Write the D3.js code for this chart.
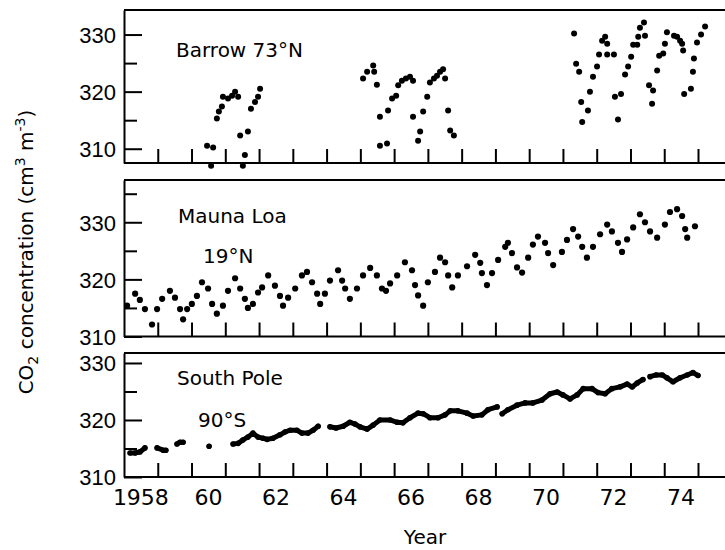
<!DOCTYPE html>
<meta charset="utf-8">
<style>
  body { margin: 0; background: #fff; }
  svg { font-family: "DejaVu Sans", sans-serif; }
  .axis path.domain { stroke: #000; stroke-width: 2; }
  .axis line { stroke: #000; stroke-width: 2; }
  .axis text { font-size: 22px; fill: #000; }
</style>
<body>
<script src="https://cdn.jsdelivr.net/npm/d3@7"></script>
<script>

// CO2 readings taken off the figure (decimal year, cm3 m-3)
var barrowYear = [1960.46, 1960.64, 1960.58, 1960.75, 1960.81, 1960.90, 1960.93, 1961.08, 1961.20, 1961.29,
    1961.38, 1961.44, 1961.58, 1961.52, 1961.67, 1961.76, 1961.88, 1961.97, 1962.03,
    1965.08, 1965.20, 1965.38, 1965.41, 1965.49, 1965.58, 1965.79, 1965.58, 1965.82, 1965.94,
    1966.06, 1966.12, 1966.23, 1966.35, 1966.47, 1966.56, 1966.56, 1966.71, 1966.77, 1966.86,
    1966.98, 1967.06, 1967.18, 1967.27, 1967.36, 1967.45, 1967.51, 1967.60, 1967.66, 1967.77,
    1971.33, 1971.39, 1971.48, 1971.54, 1971.57, 1971.74, 1971.80, 1971.89, 1972.01, 1972.07,
    1972.16, 1972.25, 1972.31, 1972.31, 1972.51, 1972.54, 1972.72, 1972.63, 1972.84, 1972.93,
    1973.02, 1973.08, 1973.20, 1973.23, 1973.28, 1973.40, 1973.43, 1973.55, 1973.67, 1973.64,
    1973.79, 1973.85, 1973.97, 1974.02, 1974.08, 1974.29, 1974.38, 1974.47, 1974.53, 1974.56,
    1974.59, 1974.79, 1974.85, 1974.88, 1974.97, 1975.09, 1975.21];
var barrowCo2 = [310.5, 310.2, 307.0, 315.3, 316.5, 317.4, 319.1, 318.8, 319.3, 320.0,
    319.1, 312.3, 308.9, 307.0, 313.0, 317.0, 318.2, 319.1, 320.5,
    322.3, 323.5, 324.6, 323.5, 321.2, 310.5, 310.9, 315.6, 316.7, 318.8,
    319.3, 321.1, 321.9, 322.3, 322.6, 321.9, 315.6, 311.4, 313.0, 316.5,
    319.1, 321.6, 322.3, 322.8, 323.5, 323.9, 322.3, 316.7, 313.2, 312.3,
    330.2, 324.9, 323.5, 318.2, 314.7, 316.7, 320.0, 322.6, 324.4, 326.5,
    328.9, 329.6, 328.4, 326.5, 326.5, 319.1, 319.6, 315.1, 323.0, 324.4,
    326.1, 328.2, 328.2, 329.6, 331.2, 332.1, 329.8, 321.1, 320.2, 317.9,
    323.7, 326.3, 326.7, 328.4, 330.4, 329.8, 329.6, 328.9, 328.4, 327.2,
    319.6, 320.5, 323.5, 325.8, 328.6, 330.0, 331.4];

var maunaYear = [1958.09, 1958.33, 1958.47, 1958.62, 1958.83, 1958.98, 1959.13, 1959.36, 1959.51, 1959.66,
    1959.75, 1959.87, 1960.01, 1960.16, 1960.31, 1960.49, 1960.61, 1960.75, 1960.93, 1961.08,
    1961.29, 1961.44, 1961.58, 1961.67, 1961.82, 1961.97, 1962.09, 1962.27, 1962.47, 1962.62,
    1962.71, 1962.86, 1963.07, 1963.27, 1963.42, 1963.57, 1963.72, 1963.81, 1963.95, 1964.10,
    1964.34, 1964.46, 1964.55, 1964.69, 1964.90, 1965.08, 1965.29, 1965.49, 1965.64, 1965.76,
    1965.88, 1966.09, 1966.32, 1966.53, 1966.62, 1966.71, 1966.86, 1967.00, 1967.21, 1967.36,
    1967.51, 1967.60, 1967.72, 1967.89, 1968.16, 1968.40, 1968.55, 1968.60, 1968.75, 1968.90,
    1969.08, 1969.29, 1969.37, 1969.49, 1969.64, 1969.79, 1969.97, 1970.11, 1970.26, 1970.47,
    1970.56, 1970.71, 1970.97, 1971.12, 1971.30, 1971.45, 1971.57, 1971.71, 1971.89, 1972.10,
    1972.31, 1972.45, 1972.63, 1972.75, 1972.90, 1973.08, 1973.28, 1973.43, 1973.58, 1973.79,
    1974.02, 1974.17, 1974.38, 1974.53, 1974.62, 1974.68, 1974.91];
var maunaCo2 = [315.4, 317.5, 316.4, 314.8, 312.1, 314.8, 316.6, 318.0, 316.8, 314.8,
    313.0, 314.8, 315.7, 317.1, 319.5, 318.4, 315.7, 314.0, 315.4, 318.0,
    320.2, 318.4, 316.6, 315.0, 315.7, 317.7, 318.6, 320.7, 318.9, 317.1,
    315.4, 316.8, 318.4, 320.7, 321.3, 319.5, 317.5, 315.7, 317.5, 319.8,
    321.6, 319.8, 318.4, 316.6, 318.4, 320.7, 322.0, 320.7, 318.4, 318.0,
    319.3, 320.7, 323.0, 321.6, 319.0, 317.2, 315.4, 319.5, 321.3, 323.8,
    323.0, 320.7, 318.6, 320.7, 322.3, 324.3, 322.9, 321.1, 319.0, 321.1,
    323.4, 325.7, 326.4, 324.6, 322.1, 321.2, 323.8, 326.1, 327.5, 326.4,
    324.6, 322.5, 324.8, 326.9, 328.8, 327.5, 325.7, 323.8, 325.7, 327.9,
    329.6, 328.4, 326.4, 324.8, 327.0, 329.1, 331.4, 330.0, 328.4, 327.3,
    329.6, 331.8, 332.3, 331.1, 328.8, 327.3, 329.3];

// null = break in the record
var poleYear = [1958.18, 1958.33, 1958.47, 1958.62, null, 1958.98, 1959.16, 1959.24, null,
    1959.57, 1959.66, 1959.75, null, 1960.52, null,
    1961.23, 1961.38, 1961.52, 1961.67, 1961.82, 1961.97, 1962.12, 1962.24, 1962.41, 1962.62,
    1962.77, 1962.92, 1963.12, 1963.27, 1963.45, 1963.60, 1963.75, null,
    1964.10, 1964.28, 1964.49, 1964.69, 1964.84, 1964.99, 1965.20, 1965.38, 1965.58, 1965.88,
    1966.09, 1966.26, 1966.47, 1966.71, 1966.86, 1967.06, 1967.30, 1967.51, 1967.66, 1967.89,
    1968.16, 1968.34, 1968.60, 1968.78, 1969.05, null,
    1969.20, 1969.37, 1969.64, 1969.88, 1970.11, 1970.38, 1970.62, 1970.83, 1971.00, 1971.21,
    1971.42, 1971.60, 1971.86, 1972.04, 1972.25, 1972.45, 1972.69, 1972.90, 1973.05, 1973.20,
    1973.37, null,
    1973.58, 1973.76, 1973.94, 1974.08, 1974.26, 1974.47, 1974.68, 1974.85, 1975.00];
var poleCo2 = [314.2, 314.2, 314.4, 315.1, null, 315.1, 314.7, 314.7, null,
    315.8, 316.1, 316.1, null, 315.4, null,
    315.8, 315.9, 316.5, 317.0, 317.7, 317.0, 316.8, 316.6, 316.8, 317.4,
    317.9, 318.2, 318.2, 317.7, 317.7, 318.2, 318.9, null,
    318.8, 318.6, 318.9, 319.6, 319.3, 318.8, 318.4, 319.1, 320.0, 320.0,
    319.6, 319.5, 320.4, 321.2, 321.1, 320.4, 320.4, 320.9, 321.6, 321.6,
    321.2, 320.7, 320.9, 321.8, 322.3, null,
    321.1, 321.8, 322.6, 323.0, 323.0, 323.5, 324.6, 324.9, 324.4, 323.7,
    324.4, 325.5, 325.5, 324.8, 324.6, 325.5, 325.8, 326.3, 325.8, 326.5,
    327.1, null,
    327.6, 327.9, 327.9, 327.4, 326.7, 327.4, 327.9, 328.3, 327.8];

var yearTicks = d3.range(1959, 1976);
var yearLabels = [1958, 1960, 1962, 1964, 1966, 1968, 1970, 1972, 1974];
var majorTicks = [310, 320, 330];
var minorTicks = [315, 325, 335];

function pairs(xs, ys) {
    return xs.map(function(t, i) { return {t: t, v: ys[i]}; });
}

var width = 725, height = 550;
var plotLeft = 124, plotRight = 725;

var x = d3.scaleLinear()
    .domain([1958, 1975])
    .range([plotLeft, 698]);

var panels = [
    {points: pairs(barrowYear, barrowCo2), domain: [307.5, 334.3], top: 10, bottom: 163,
     texts: [{s: "Barrow 73°N", x: 176, dy: 47}], line: false, r: 3},
    {points: pairs(maunaYear, maunaCo2), domain: [310, 337.4], top: 180, bottom: 336.5,
     texts: [{s: "Mauna Loa", x: 178, dy: 43}, {s: "19°N", x: 203, dy: 83}], line: false, r: 3.1},
    {points: pairs(poleYear, poleCo2), domain: [310, 331.75], top: 353, bottom: 477,
     texts: [{s: "South Pole", x: 177, dy: 32}, {s: "90°S", x: 198, dy: 74}], line: true, r: 2.8}
];

var svg = d3.select("body").append("svg")
    .attr("width", width)
    .attr("height", height);

panels.forEach(function(p, i) {
    var y = d3.scaleLinear()
        .domain(p.domain)
        .range([p.bottom, p.top]);

    var g = svg.append("g");

    // top and bottom frame lines
    g.append("line")
        .attr("x1", plotLeft).attr("x2", plotRight)
        .attr("y1", p.top).attr("y2", p.top)
        .attr("stroke", "#000").attr("stroke-width", 2);
    g.append("line")
        .attr("x1", plotLeft).attr("x2", plotRight)
        .attr("y1", p.bottom).attr("y2", p.bottom)
        .attr("stroke", "#000").attr("stroke-width", 2);

    // year ticks pointing up from the bottom line
    g.append("g")
        .attr("class", "axis")
        .attr("transform", "translate(0," + p.bottom + ")")
        .call(d3.axisBottom(x).tickValues(yearTicks).tickSizeInner(-14).tickSizeOuter(0).tickFormat(""))
        .call(function(a) { a.select(".domain").remove(); });

    // left axis, ticks inward
    var inMajor = majorTicks.filter(function(v) { return v >= p.domain[0] && v <= p.domain[1]; });
    var inMinor = minorTicks.filter(function(v) { return v >= p.domain[0] && v <= p.domain[1]; });

    g.append("g")
        .attr("class", "axis")
        .attr("transform", "translate(" + plotLeft + ",0)")
        .call(d3.axisLeft(y).tickValues(inMajor).tickSizeInner(-18).tickSizeOuter(0).tickPadding(8))
        .call(function(a) { a.selectAll("text").attr("dy", "0.36em"); });

    g.append("g")
        .attr("class", "axis")
        .attr("transform", "translate(" + plotLeft + ",0)")
        .call(d3.axisLeft(y).tickValues(inMinor).tickSize(-13).tickFormat(""))
        .call(function(a) { a.select(".domain").remove(); });

    // station names
    p.texts.forEach(function(tx) {
        g.append("text")
            .attr("x", tx.x)
            .attr("y", p.top + tx.dy)
            .style("font-size", "20px")
            .text(tx.s);
    });

    var pts = p.points;

    if (p.line) {
        var line = d3.line()
            .defined(function(d) { return d.v != null; })
            .x(function(d) { return x(d.t); })
            .y(function(d) { return y(d.v); });
        g.append("path")
            .datum(pts)
            .attr("d", line)
            .attr("fill", "none")
            .attr("stroke", "#000")
            .attr("stroke-width", 5)
            .attr("stroke-linecap", "round")
            .attr("stroke-linejoin", "round");
    }

    g.selectAll("circle")
        .data(pts.filter(function(d) { return d.v != null; }))
        .enter()
        .append("circle")
        .attr("cx", function(d) { return x(d.t); })
        .attr("cy", function(d) { return y(d.v); })
        .attr("r", p.r)
        .attr("fill", "#000");

    // year labels under the last panel, centred on each year
    if (i == panels.length - 1) {
        g.selectAll(".yearlabel")
            .data(yearLabels)
            .enter()
            .append("text")
            .attr("class", "yearlabel")
            .attr("x", function(d) { return x(d + 0.5); })
            .attr("y", p.bottom + 28)
            .attr("text-anchor", "middle")
            .style("font-size", "22px")
            .text(function(d) { return d == 1958 ? "1958" : String(d).slice(2); });
    }
});

svg.append("text")
    .attr("x", 425)
    .attr("y", 544)
    .attr("text-anchor", "middle")
    .style("font-size", "20px")
    .text("Year");

var title = svg.append("text")
    .attr("transform", "translate(33,252) rotate(-90)")
    .attr("text-anchor", "middle")
    .style("font-size", "20px");
title.append("tspan").text("CO");
title.append("tspan").attr("dy", 5).style("font-size", "14px").text("2");
title.append("tspan").attr("dy", -5).text(" concentration (cm");
title.append("tspan").attr("dy", -8).style("font-size", "14px").text("3");
title.append("tspan").attr("dy", 8).text(" m");
title.append("tspan").attr("dy", -8).style("font-size", "14px").text("-3");
title.append("tspan").attr("dy", 8).text(")");

</script>
</body>
